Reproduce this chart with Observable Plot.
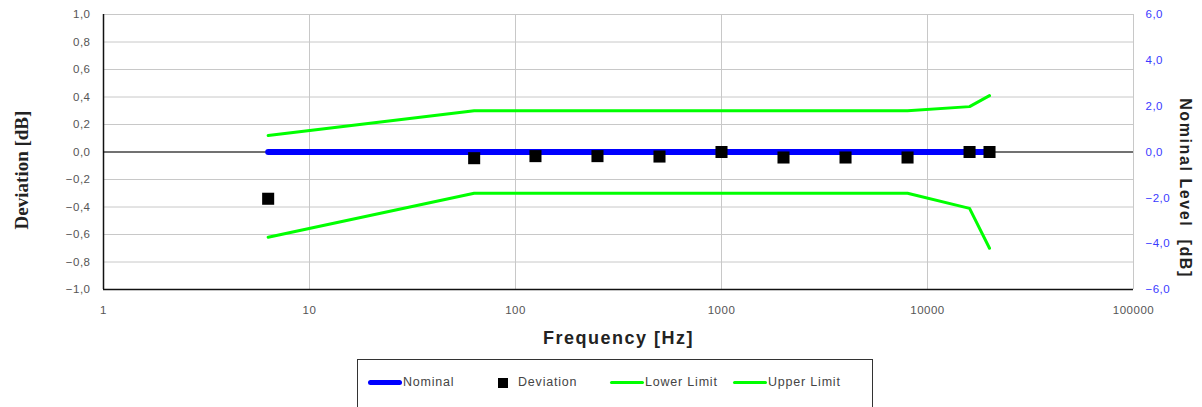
<!DOCTYPE html>
<html>
<head>
<meta charset="utf-8">
<script src="https://cdn.jsdelivr.net/npm/d3@7"></script>
<script src="https://cdn.jsdelivr.net/npm/@observablehq/plot@0.6"></script>
<style>
  body { margin: 0; background: #fff; font-family: "Liberation Sans", Arial, sans-serif; }
  #wrap { position: relative; width: 1202px; height: 407px; overflow: hidden; }
  #legend {
    position: absolute; left: 357px; top: 359px; width: 516px; height: 60px;
    border: 1.5px solid #333; box-sizing: border-box; background: #fff;
  }
  #legend .item { position: absolute; top: 15px; font-size: 12.5px; letter-spacing: 0.8px; color: #444; line-height: 14px; }
  #legend .sw { display: inline-block; vertical-align: middle; margin-right: 1px; }
  .ticks text { letter-spacing: 0.5px; }
</style>
</head>
<body>
<div id="wrap">
  <div id="chart"></div>
  <div id="legend"></div>
</div>
<script>
// Measurement frequencies (Hz)
const frequencies = [6.3, 63, 125, 250, 500, 1000, 2000, 4000, 8000, 16000, 20000];
// Measured deviation from nominal (dB)
const deviation = [-0.34, -0.045, -0.03, -0.03, -0.033, 0.0, -0.04, -0.04, -0.04, 0.0, 0.0];
// Nominal response (dB)
const nominal = [0, 0, 0, 0, 0, 0, 0, 0, 0, 0, 0];
// Tolerance limits (dB)
const lowerLimit = [-0.62, -0.30, -0.30, -0.30, -0.30, -0.30, -0.30, -0.30, -0.30, -0.41, -0.70];
const upperLimit = [0.12, 0.30, 0.30, 0.30, 0.30, 0.30, 0.30, 0.30, 0.30, 0.33, 0.41];

// Axis ticks
const freqTicks = [1, 10, 100, 1000, 10000, 100000];
const deviationTicks = [-1, -0.8, -0.6, -0.4, -0.2, 0, 0.2, 0.4, 0.6, 0.8, 1];
const nominalLevelTicks = [-6, -4, -2, 0, 2, 4, 6];
const nominalLevelRange = 6; // right axis spans ±6 dB over the ±1 dB deviation axis

const rows = frequencies.map((f, i) => ({
  f, dev: deviation[i], nom: nominal[i], lo: lowerLimit[i], hi: upperLimit[i]
}));

const comma = d => {
  const s = Math.abs(d).toFixed(1).replace(".", ",");
  return (d < -1e-9 ? "\u2212" : "") + s;
};

const chart = Plot.plot({
  width: 1202,
  height: 355,
  marginLeft: 103,
  marginRight: 69,
  marginTop: 14,
  marginBottom: 66,
  style: { fontFamily: "Liberation Sans, Arial, sans-serif", fontSize: "11.5px", color: "#555", background: "#fff" },
  x: { type: "log", domain: [1, 100000] },
  y: { domain: [-1, 1] },
  marks: [
    // grid
    Plot.gridX(freqTicks, { stroke: "#c8c8c8", strokeOpacity: 1, strokeWidth: 1 }),
    Plot.gridY(deviationTicks, { stroke: "#c8c8c8", strokeOpacity: 1, strokeWidth: 1 }),
    Plot.ruleX([100000], { stroke: "#c8c8c8" }),
    // axes
    Plot.axisX(freqTicks, { tickSize: 0, tickPadding: 16, tickFormat: d => String(d), label: null, fill: "#555", className: "ticks" }),
    Plot.axisY(deviationTicks, { tickSize: 0, tickPadding: 13, tickFormat: comma, label: null, fill: "#555", className: "ticks" }),
    Plot.axisY(nominalLevelTicks.map(v => v / nominalLevelRange), {
      anchor: "right", tickSize: 0, tickPadding: 12, label: null, fill: "#3a3aff", className: "ticks",
      tickFormat: v => comma(v * nominalLevelRange)
    }),
    Plot.ruleX([1], { stroke: "#111", strokeWidth: 1.5 }),
    Plot.ruleY([-1], { stroke: "#111", strokeWidth: 1.5 }),
    Plot.ruleY([0], { stroke: "#000", strokeWidth: 1 }),
    // axis titles
    Plot.text(["Frequency [Hz]"], {
      frameAnchor: "bottom", dy: 54, fontSize: 18, fontWeight: "bold", fill: "#222",
      fontFamily: "Liberation Sans, Arial, sans-serif", className: "xtitle"
    }),
    Plot.text(["Deviation [dB]"], {
      frameAnchor: "left", textAnchor: "middle", dx: -82, dy: 18, rotate: -90, fontSize: 19, fontWeight: "bold", fill: "#222",
      fontFamily: "Liberation Serif, Times New Roman, serif"
    }),
    Plot.text(["Nominal Level\u00a0 [dB]"], {
      frameAnchor: "right", textAnchor: "middle", dx: 52, dy: 36, rotate: 90, fontSize: 16, fontWeight: "bold", fill: "#222",
      fontFamily: "Liberation Sans, Arial, sans-serif", className: "y2title"
    }),
    // data
    Plot.line(rows, { x: "f", y: "lo", stroke: "#00ff00", strokeWidth: 3 }),
    Plot.line(rows, { x: "f", y: "hi", stroke: "#00ff00", strokeWidth: 3 }),
    Plot.line(rows, { x: "f", y: "nom", stroke: "#0000ff", strokeWidth: 6, strokeLinecap: "round" }),
    Plot.dot(rows, { x: "f", y: "dev", symbol: "square", r: 6.8, fill: "#000", stroke: "none" })
  ]
});
d3.select(chart).selectAll(".xtitle text").attr("letter-spacing", "1.5");
d3.select(chart).selectAll(".y2title text").attr("letter-spacing", "1.6");
document.getElementById("chart").appendChild(chart);

// legend
const legendItems = [
  { label: "Nominal", kind: "line", color: "#0000ff", h: 5, left: 10 },
  { label: "Deviation", kind: "square", color: "#000", left: 140 },
  { label: "Lower Limit", kind: "line", color: "#00ff00", h: 3, left: 252 },
  { label: "Upper Limit", kind: "line", color: "#00ff00", h: 3, left: 375 }
];
const legend = document.getElementById("legend");
for (const it of legendItems) {
  const el = document.createElement("div");
  el.className = "item";
  el.style.left = it.left + "px";
  const sw = document.createElement("span");
  sw.className = "sw";
  if (it.kind === "line") {
    sw.style.width = "34px"; sw.style.height = it.h + "px"; sw.style.background = it.color;
    sw.style.borderRadius = "3px";
  } else {
    sw.style.width = "10px"; sw.style.height = "10px"; sw.style.background = it.color;
    sw.style.marginRight = "10px";
  }
  el.appendChild(sw);
  el.appendChild(document.createTextNode(it.label));
  legend.appendChild(el);
}
</script>
</body>
</html>
